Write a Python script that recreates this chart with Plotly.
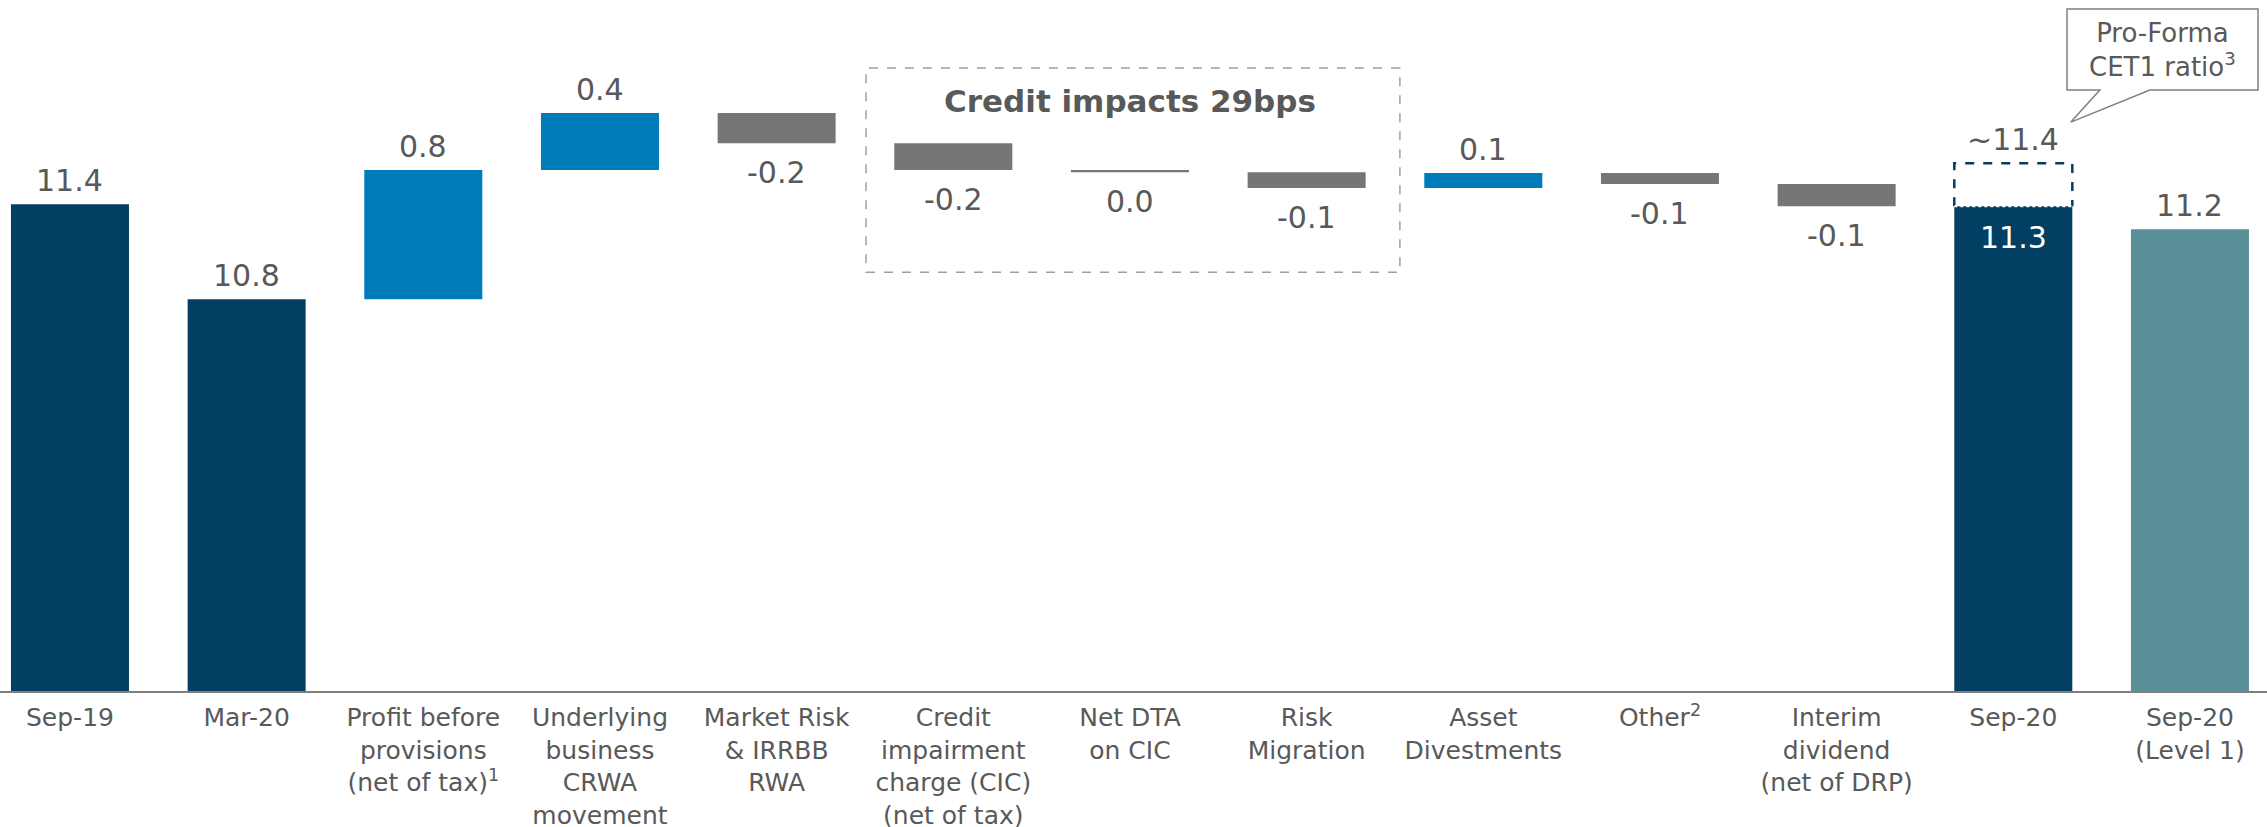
import plotly.graph_objects as go

# CET1 ratio walk, Sep-19 -> Sep-20 (%)
labels = [
    "Sep-19",
    "Mar-20",
    "Profit before<br>provisions<br>(net of tax)<sup>1</sup>",
    "Underlying<br>business<br>CRWA<br>movement",
    "Market Risk<br>& IRRBB<br>RWA",
    "Credit<br>impairment<br>charge (CIC)<br>(net of tax)",
    "Net DTA<br>on CIC",
    "Risk<br>Migration",
    "Asset<br>Divestments",
    "Other<sup>2</sup>",
    "Interim<br>dividend<br>(net of DRP)",
    "Sep-20",
    "Sep-20<br>(Level 1)",
]
measure = ["total", "total", "delta", "delta", "delta", "delta", "delta",
           "delta", "delta", "delta", "delta", "total", "total"]
values = [11.40, 10.80, 0.815, 0.36, -0.19, -0.17, -0.013,
          -0.10, 0.095, -0.07, -0.14, 11.387, 11.242]
value_text = ["11.4", "10.8", "0.8", "0.4", "-0.2", "-0.2", "0.0",
              "-0.1", "0.1", "-0.1", "-0.1", "11.3", "11.2"]
proforma_value = 11.659
proforma_text = "~11.4"

NAVY, BLUE, GREY, TEAL = "#033F62", "#007BBA", "#767678", "#5A9199"
TXT = "#595959"
FONT = "DejaVu Sans"
BAR_W = 0.668
Y_MIN, Y_MAX = 8.326, 12.689

# build bases / colours from the running total
bases, colors, running = [], [], 0.0
for i, (m, v) in enumerate(zip(measure, values)):
    if m == "total":
        bases.append(0)
        colors.append(TEAL if i == len(values) - 1 else NAVY)
        running = v
    else:
        bases.append(running)
        colors.append(BLUE if v >= 0 else GREY)
        running += v

sep20 = measure.index("total", 2)
xs = list(range(len(labels)))

fig = go.Figure()
fig.add_trace(go.Bar(
    x=xs, y=values, base=bases, width=BAR_W, marker=dict(color=colors, line=dict(width=0)),
    hoverinfo="skip"))

# value labels: above for totals / gains, below for losses, inside for Sep-20
for i, (b, v, t) in enumerate(zip(bases, values, value_text)):
    end = b + v
    if i == sep20:
        fig.add_annotation(x=i, y=end, text=t, yanchor="top", yshift=-12, showarrow=False,
                           font=dict(family=FONT, size=30, color="white"))
    elif v >= 0:
        fig.add_annotation(x=i, y=end, text=t, yanchor="bottom", yshift=4, showarrow=False,
                           font=dict(family=FONT, size=30, color=TXT))
    else:
        fig.add_annotation(x=i, y=end, text=t, yanchor="top", yshift=-10, showarrow=False,
                           font=dict(family=FONT, size=30, color=TXT))

# pro-forma top-up on Sep-20: dashed outline
x0, x1 = sep20 - BAR_W / 2, sep20 + BAR_W / 2
fig.add_shape(type="path", xref="x", yref="y",
              path=f"M {x0},{values[sep20]} L {x0},{proforma_value} L {x1},{proforma_value} L {x1},{values[sep20]}",
              line=dict(color=NAVY, width=2.5, dash="dash"))
fig.add_shape(type="line", xref="x", yref="y", x0=x0, x1=x1, y0=values[sep20], y1=values[sep20],
              line=dict(color="white", width=2, dash="dot"))
fig.add_annotation(x=sep20, y=proforma_value, text=proforma_text, yanchor="bottom", yshift=4,
                   showarrow=False, font=dict(family=FONT, size=30, color=TXT))

# credit impacts box
fig.add_shape(type="rect", xref="x", yref="y", x0=4.506, x1=7.528, y0=10.97, y1=12.259,
              line=dict(color="#A0A0A0", width=1.5, dash="dash"), layer="below")
fig.add_annotation(x=6.0, y=12.05, xref="x", yref="y", text="<b>Credit impacts 29bps</b>",
                   showarrow=False, font=dict(family=FONT, size=31, color=TXT))

# pro-forma callout
fig.add_shape(type="path", xref="x", yref="y",
              path="M 11.304,12.12 L 11.304,12.632 L 12.385,12.632 L 12.385,12.12 "
                   "L 11.773,12.12 L 11.326,11.918 L 11.49,12.12 Z",
              line=dict(color="#7F7F7F", width=1.5), fillcolor="white")
fig.add_annotation(x=11.845, y=12.376, xref="x", yref="y", text="Pro-Forma<br>CET1 ratio<sup>3</sup>",
                   showarrow=False, font=dict(family=FONT, size=26, color=TXT))

fig.update_layout(
    width=2267, height=827, plot_bgcolor="white", paper_bgcolor="white",
    margin=dict(l=0, r=0, t=0, b=136), showlegend=False,
    font=dict(family=FONT, color=TXT),
    xaxis=dict(range=[-0.396, 12.436], tickvals=xs, ticktext=labels, showgrid=False,
               zeroline=False, showline=True, linecolor="#7F7F7F", linewidth=2,
               ticks="", ticklabelstandoff=3, automargin=False,
               tickfont=dict(family=FONT, size=25, color=TXT), tickangle=0),
    yaxis=dict(range=[Y_MIN, Y_MAX], visible=False),
)
fig.write_html("out.html", config={"displayModeBar": False},
               post_script="document.body.style.margin='0';")
